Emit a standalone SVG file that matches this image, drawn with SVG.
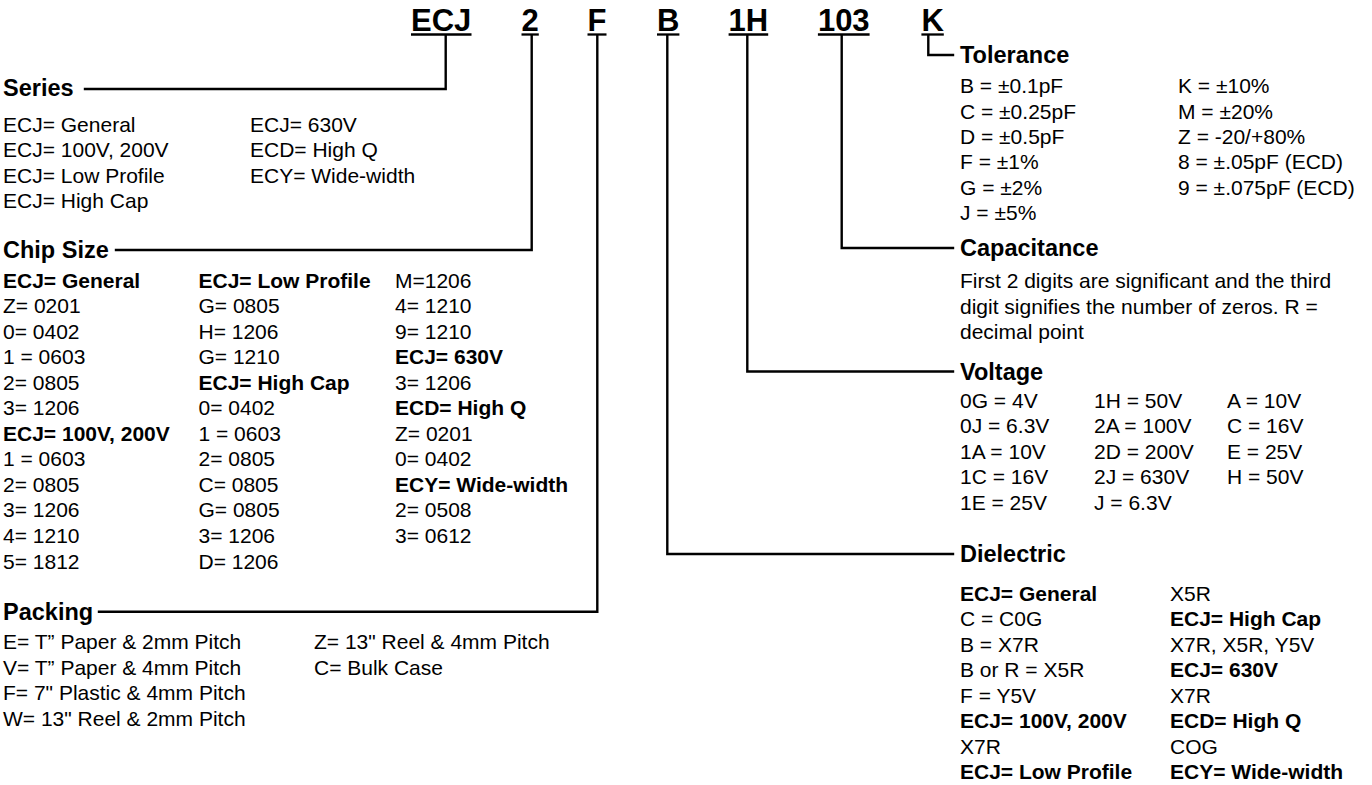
<svg xmlns="http://www.w3.org/2000/svg" width="1372" height="785" viewBox="0 0 1372 785">
<style>
text{font-family:"Liberation Sans",Arial,Helvetica,sans-serif;fill:#000}
.code{font-size:31px;font-weight:bold}
.h{font-size:23.5px;font-weight:bold}
.t{font-size:21px}
.b{font-weight:bold}
.ul{stroke:#000;stroke-width:2.3;fill:none}
.cn{stroke:#000;stroke-width:2.4;fill:none;stroke-linejoin:miter;stroke-linecap:square}
</style>
<rect width="1372" height="785" fill="#fff"/>

<g id="code-ECJ"><text class="code" x="411" y="31">ECJ</text><line class="ul" x1="411" y1="34.5" x2="471.5" y2="34.5"/></g>
<g id="code-2"><text class="code" x="521.5" y="31">2</text><line class="ul" x1="521.5" y1="34.5" x2="538.8" y2="34.5"/></g>
<g id="code-F"><text class="code" x="587.5" y="31">F</text><line class="ul" x1="587.5" y1="34.5" x2="606.5" y2="34.5"/></g>
<g id="code-B"><text class="code" x="657" y="31">B</text><line class="ul" x1="657" y1="34.5" x2="679.4" y2="34.5"/></g>
<g id="code-1H"><text class="code" x="728.6" y="31">1H</text><line class="ul" x1="728.6" y1="34.5" x2="768.2" y2="34.5"/></g>
<g id="code-103"><text class="code" x="817.9" y="31">103</text><line class="ul" x1="817.9" y1="34.5" x2="869.6" y2="34.5"/></g>
<g id="code-K"><text class="code" x="921.4" y="31">K</text><line class="ul" x1="921.4" y1="34.5" x2="943.8" y2="34.5"/></g>

<g id="connectors">
<path class="cn" d="M445.7,36 V89 H85"/>
<path class="cn" d="M531.7,36 V250 H116"/>
<path class="cn" d="M597.3,36 V611.7 H99"/>
<path class="cn" d="M667.3,36 V554 H953"/>
<path class="cn" d="M747.3,36 V371.5 H953"/>
<path class="cn" d="M841.7,36 V248 H953"/>
<path class="cn" d="M928.3,36 V55 H953"/>
</g>

<g id="series">
<text class="h" x="3" y="96">Series</text>
<text class="t" x="3"><tspan x="3" y="131.5">ECJ= General</tspan><tspan x="3" y="157">ECJ= 100V, 200V</tspan><tspan x="3" y="182.5">ECJ= Low Profile</tspan><tspan x="3" y="208">ECJ= High Cap</tspan></text>
<text class="t" x="250"><tspan x="250" y="131.5">ECJ= 630V</tspan><tspan x="250" y="157">ECD= High Q</tspan><tspan x="250" y="182.5">ECY= Wide-width</tspan></text>
</g>

<g id="chip-size">
<text class="h" x="3" y="258">Chip Size</text>
<text class="t">
<tspan x="3" y="287.5" class="b">ECJ= General</tspan>
<tspan x="3" y="313">Z= 0201</tspan>
<tspan x="3" y="338.6">0= 0402</tspan>
<tspan x="3" y="364.1">1 = 0603</tspan>
<tspan x="3" y="389.7">2= 0805</tspan>
<tspan x="3" y="415.2">3= 1206</tspan>
<tspan x="3" y="440.8" class="b">ECJ= 100V, 200V</tspan>
<tspan x="3" y="466.3">1 = 0603</tspan>
<tspan x="3" y="491.9">2= 0805</tspan>
<tspan x="3" y="517.4">3= 1206</tspan>
<tspan x="3" y="543">4= 1210</tspan>
<tspan x="3" y="568.5">5= 1812</tspan>
</text>
<text class="t">
<tspan x="198.5" y="287.5" class="b">ECJ= Low Profile</tspan>
<tspan x="198.5" y="313">G= 0805</tspan>
<tspan x="198.5" y="338.6">H= 1206</tspan>
<tspan x="198.5" y="364.1">G= 1210</tspan>
<tspan x="198.5" y="389.7" class="b">ECJ= High Cap</tspan>
<tspan x="198.5" y="415.2">0= 0402</tspan>
<tspan x="198.5" y="440.8">1 = 0603</tspan>
<tspan x="198.5" y="466.3">2= 0805</tspan>
<tspan x="198.5" y="491.9">C= 0805</tspan>
<tspan x="198.5" y="517.4">G= 0805</tspan>
<tspan x="198.5" y="543">3= 1206</tspan>
<tspan x="198.5" y="568.5">D= 1206</tspan>
</text>
<text class="t">
<tspan x="395" y="287.5">M=1206</tspan>
<tspan x="395" y="313">4= 1210</tspan>
<tspan x="395" y="338.6">9= 1210</tspan>
<tspan x="395" y="364.1" class="b">ECJ= 630V</tspan>
<tspan x="395" y="389.7">3= 1206</tspan>
<tspan x="395" y="415.2" class="b">ECD= High Q</tspan>
<tspan x="395" y="440.8">Z= 0201</tspan>
<tspan x="395" y="466.3">0= 0402</tspan>
<tspan x="395" y="491.9" class="b">ECY= Wide-width</tspan>
<tspan x="395" y="517.4">2= 0508</tspan>
<tspan x="395" y="543">3= 0612</tspan>
</text>
</g>

<g id="packing">
<text class="h" x="3" y="620">Packing</text>
<text class="t"><tspan x="3" y="649">E= T” Paper &amp; 2mm Pitch</tspan><tspan x="3" y="674.5">V= T” Paper &amp; 4mm Pitch</tspan><tspan x="3" y="700">F= 7" Plastic &amp; 4mm Pitch</tspan><tspan x="3" y="725.5">W= 13" Reel &amp; 2mm Pitch</tspan></text>
<text class="t"><tspan x="314" y="649">Z= 13" Reel &amp; 4mm Pitch</tspan><tspan x="314" y="674.5">C= Bulk Case</tspan></text>
</g>

<g id="tolerance">
<text class="h" x="960" y="63">Tolerance</text>
<text class="t"><tspan x="960" y="92.5">B = ±0.1pF</tspan><tspan x="960" y="118.5">C = ±0.25pF</tspan><tspan x="960" y="143.5">D = ±0.5pF</tspan><tspan x="960" y="168.5">F = ±1%</tspan><tspan x="960" y="194.5">G = ±2%</tspan><tspan x="960" y="219.5">J = ±5%</tspan></text>
<text class="t"><tspan x="1178" y="92.5">K = ±10%</tspan><tspan x="1178" y="118.5">M = ±20%</tspan><tspan x="1178" y="143.5">Z = -20/+80%</tspan><tspan x="1178" y="168.5">8 = ±.05pF (ECD)</tspan><tspan x="1178" y="194.5">9 = ±.075pF (ECD)</tspan></text>
</g>

<g id="capacitance">
<text class="h" x="960" y="256">Capacitance</text>
<text class="t"><tspan x="960" y="288">First 2 digits are significant and the third</tspan><tspan x="960" y="313.5">digit signifies the number of zeros. R =</tspan><tspan x="960" y="339">decimal point</tspan></text>
</g>

<g id="voltage">
<text class="h" x="960" y="380">Voltage</text>
<text class="t"><tspan x="960" y="407.5">0G = 4V</tspan><tspan x="960" y="433">0J = 6.3V</tspan><tspan x="960" y="458.5">1A = 10V</tspan><tspan x="960" y="484">1C = 16V</tspan><tspan x="960" y="509.5">1E = 25V</tspan></text>
<text class="t"><tspan x="1094" y="407.5">1H = 50V</tspan><tspan x="1094" y="433">2A = 100V</tspan><tspan x="1094" y="458.5">2D = 200V</tspan><tspan x="1094" y="484">2J = 630V</tspan><tspan x="1094" y="509.5">J = 6.3V</tspan></text>
<text class="t"><tspan x="1227" y="407.5">A = 10V</tspan><tspan x="1227" y="433">C = 16V</tspan><tspan x="1227" y="458.5">E = 25V</tspan><tspan x="1227" y="484">H = 50V</tspan></text>
</g>

<g id="dielectric">
<text class="h" x="960" y="562">Dielectric</text>
<text class="t">
<tspan x="960" y="600.5" class="b">ECJ= General</tspan>
<tspan x="960" y="626">C = C0G</tspan>
<tspan x="960" y="651.5">B = X7R</tspan>
<tspan x="960" y="677">B or R = X5R</tspan>
<tspan x="960" y="702.5">F = Y5V</tspan>
<tspan x="960" y="728" class="b">ECJ= 100V, 200V</tspan>
<tspan x="960" y="753.5">X7R</tspan>
<tspan x="960" y="779" class="b">ECJ= Low Profile</tspan>
</text>
<text class="t">
<tspan x="1170" y="600.5">X5R</tspan>
<tspan x="1170" y="626" class="b">ECJ= High Cap</tspan>
<tspan x="1170" y="651.5">X7R, X5R, Y5V</tspan>
<tspan x="1170" y="677" class="b">ECJ= 630V</tspan>
<tspan x="1170" y="702.5">X7R</tspan>
<tspan x="1170" y="728" class="b">ECD= High Q</tspan>
<tspan x="1170" y="753.5">COG</tspan>
<tspan x="1170" y="779" class="b">ECY= Wide-width</tspan>
</text>
</g>
</svg>
